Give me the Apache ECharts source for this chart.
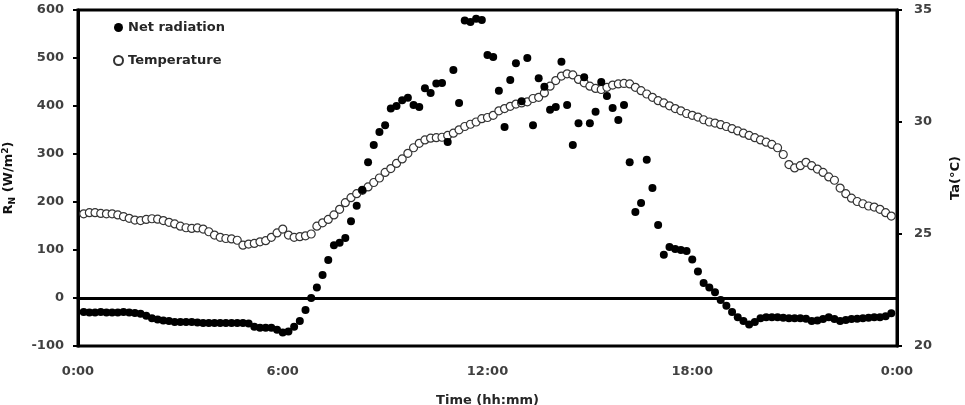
<!DOCTYPE html>
<html>
<head>
<meta charset="utf-8">
<script src="https://cdn.jsdelivr.net/npm/echarts@6/dist/echarts.min.js"></script>
<style>
  html, body { margin: 0; padding: 0; background: #fff; }
  #chart { width: 965px; height: 405px; }
</style>
</head>
<body>
<div id="chart"></div>
<script>
// sample times, minutes after midnight (10 min logging)
var minutes = [
  10, 20, 30, 40, 50, 60,
  70, 80, 90, 100, 110, 120,
  130, 140, 150, 160, 170, 180,
  190, 200, 210, 220, 230, 240,
  250, 260, 270, 280, 290, 300,
  310, 320, 330, 340, 350, 360,
  370, 380, 390, 400, 410, 420,
  430, 440, 450, 460, 470, 480,
  490, 500, 510, 520, 530, 540,
  550, 560, 570, 580, 590, 600,
  610, 620, 630, 640, 650, 660,
  670, 680, 690, 700, 710, 720,
  730, 740, 750, 760, 770, 780,
  790, 800, 810, 820, 830, 840,
  850, 860, 870, 880, 890, 900,
  910, 920, 930, 940, 950, 960,
  970, 980, 990, 1000, 1010, 1020,
  1030, 1040, 1050, 1060, 1070, 1080,
  1090, 1100, 1110, 1120, 1130, 1140,
  1150, 1160, 1170, 1180, 1190, 1200,
  1210, 1220, 1230, 1240, 1250, 1260,
  1270, 1280, 1290, 1300, 1310, 1320,
  1330, 1340, 1350, 1360, 1370, 1380,
  1390, 1400, 1410, 1420, 1430
];

// net radiation, W/m2
var netRadiation = [
  -29, -30, -30, -29, -30, -30,
  -30, -29, -30, -31, -33, -37,
  -42, -45, -47, -48, -50, -50,
  -50, -50, -51, -52, -52, -52,
  -52, -52, -52, -52, -52, -53,
  -60, -62, -62, -62, -66, -72,
  -70, -60, -48, -25, 0, 22,
  48, 79, 110, 115, 125, 160,
  192, 225, 283, 319, 346, 360,
  395, 400, 412, 417, 402, 398,
  437, 427, 447, 448, 325, 475,
  406, 578, 575, 582, 579, 506,
  502, 432, 356, 454, 489, 410,
  500, 360, 458, 440, 392, 398,
  492, 402, 319, 364, 460, 364,
  388, 450, 421, 396, 371, 402,
  283, 179, 198, 288, 229, 152,
  90, 106, 102, 100, 98, 80,
  55, 31, 22, 12, -4, -16,
  -29, -40, -48, -55, -50, -42,
  -40, -40, -40, -41, -42, -42,
  -42, -43, -48, -47, -44, -40,
  -44, -48, -46, -44, -43, -42,
  -41, -40, -40, -38, -32
];

// air temperature, deg C
var temperature = [
  25.9, 25.95, 25.95, 25.92, 25.9, 25.9,
  25.85, 25.78, 25.7, 25.62, 25.6, 25.65,
  25.68, 25.66, 25.6, 25.52, 25.45, 25.35,
  25.28, 25.25, 25.27, 25.22, 25.1, 24.95,
  24.85, 24.8, 24.78, 24.72, 24.5, 24.55,
  24.58, 24.65, 24.7, 24.85, 25.05, 25.22,
  24.95, 24.85, 24.88, 24.92, 25.0, 25.35,
  25.5, 25.65, 25.85, 26.1, 26.4, 26.62,
  26.8, 26.95, 27.1, 27.3, 27.5, 27.75,
  27.92, 28.15, 28.35, 28.6, 28.85, 29.05,
  29.2, 29.28, 29.3, 29.32, 29.4, 29.5,
  29.65, 29.8, 29.9, 30.0, 30.15, 30.2,
  30.3, 30.5, 30.6, 30.7, 30.8, 30.85,
  30.9, 31.05, 31.1, 31.3, 31.6, 31.85,
  32.05, 32.15, 32.1, 31.9, 31.75, 31.6,
  31.5, 31.45, 31.55, 31.65, 31.7, 31.72,
  31.7, 31.55, 31.4, 31.25, 31.1, 30.95,
  30.85, 30.72, 30.6, 30.5, 30.38, 30.3,
  30.22, 30.1, 30.0, 29.95, 29.88, 29.8,
  29.7, 29.6, 29.5, 29.4, 29.3, 29.2,
  29.1, 29.0, 28.85, 28.55, 28.1, 27.95,
  28.05, 28.2, 28.05, 27.9, 27.75, 27.55,
  27.4, 27.05, 26.8, 26.6, 26.45, 26.35,
  26.25, 26.2, 26.1, 25.95, 25.8
];

var seriesNames = ['Net radiation', 'Temperature'];

function pairs(xs, ys) {
  return xs.map(function (x, i) { return [x, ys[i]]; });
}

var font = '"DejaVu Sans"';
var labelStyle = { color: '#404040', fontWeight: 'bold', fontSize: 13, fontFamily: font };

var myChart = echarts.init(document.getElementById('chart'));

myChart.setOption({
  animation: false,
  grid: {
    left: 78, right: 68, top: 10, bottom: 59,
    outerBoundsMode: 'none',
    containLabel: false,
    show: true,
    borderColor: '#000',
    borderWidth: 3
  },
  legend: {
    data: seriesNames,
    orient: 'vertical',
    left: 113,
    top: 21,
    padding: 0,
    itemWidth: 9,
    itemHeight: 9,
    itemGap: 20,
    textStyle: { color: '#262626', fontWeight: 'bold', fontSize: 13, fontFamily: font }
  },
  xAxis: {
    type: 'value',
    min: 0,
    max: 1440,
    interval: 360,
    name: 'Time (hh:mm)',
    nameLocation: 'middle',
    nameGap: 48,
    nameTextStyle: { color: '#262626', fontWeight: 'bold', fontSize: 13, fontFamily: font },
    axisLine: { lineStyle: { color: '#000', width: 3 } },
    axisTick: { show: false },
    splitLine: { show: false },
    axisLabel: Object.assign({
      margin: 19,
      formatter: function (v) { return (v / 60 % 24) + ':00'; }
    }, labelStyle)
  },
  yAxis: [{
    type: 'value',
    min: -100,
    max: 600,
    interval: 100,
    name: 'R{sub|N} (W/m{sup|2})',
    nameLocation: 'middle',
    nameGap: 61,
    nameTextStyle: {
      color: '#111', fontWeight: 'bold', fontSize: 13, fontFamily: font,
      rich: {
        sub: { fontSize: 9, fontWeight: 'bold', fontFamily: font, color: '#111', padding: [7, 0, 0, 0] },
        sup: { fontSize: 9, fontWeight: 'bold', fontFamily: font, color: '#111', padding: [0, 0, 7, 0] }
      }
    },
    axisLine: { show: true, lineStyle: { color: '#000', width: 3 } },
    axisTick: { show: true, length: 5, lineStyle: { color: '#000', width: 2 } },
    splitLine: { show: false },
    axisLabel: Object.assign({ margin: 14 }, labelStyle)
  }, {
    type: 'value',
    position: 'right',
    min: 20,
    max: 35,
    interval: 5,
    name: 'Ta(°C)',
    nameLocation: 'middle',
    nameGap: 52,
    nameTextStyle: { color: '#111', fontWeight: 'bold', fontSize: 13, fontFamily: font },
    axisLine: { show: true, lineStyle: { color: '#000', width: 3 } },
    axisTick: { show: true, length: 5, lineStyle: { color: '#000', width: 2 } },
    splitLine: { show: false },
    axisLabel: Object.assign({ margin: 17 }, labelStyle)
  }],
  series: [{
    name: seriesNames[1],
    type: 'scatter',
    yAxisIndex: 1,
    symbol: 'circle',
    symbolSize: 8,
    itemStyle: { color: '#fff', borderColor: '#333', borderWidth: 1.2, opacity: 1 },
    data: pairs(minutes, temperature)
  }, {
    name: seriesNames[0],
    type: 'scatter',
    yAxisIndex: 0,
    symbol: 'circle',
    symbolSize: 8,
    itemStyle: { color: '#000', opacity: 1 },
    data: pairs(minutes, netRadiation),
    markLine: {
      silent: true,
      symbol: 'none',
      label: { show: false },
      lineStyle: { color: '#000', width: 3, type: 'solid' },
      data: [{ yAxis: 0 }]
    }
  }]
});

window.addEventListener('resize', function () {
  myChart.resize();
});
</script>
</body>
</html>
